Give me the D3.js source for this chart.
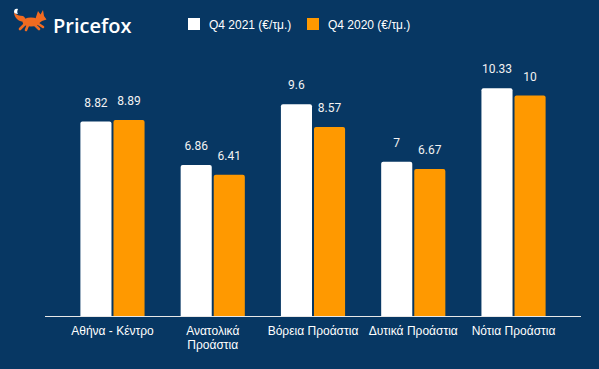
<!DOCTYPE html>
<html>
<head>
<meta charset="utf-8">
<script src="https://cdn.jsdelivr.net/npm/d3@7"></script>
<style>
  html, body { margin: 0; padding: 0; background: #073763; }
  svg { display: block; }
</style>
</head>
<body>
<div id="chart"></div>
<script>
var categories = ['Αθήνα - Κέντρο', 'Ανατολικά Προάστια', 'Βόρεια Προάστια', 'Δυτικά Προάστια', 'Νότια Προάστια'];
var seriesNames = ['Q4 2021 (€/τμ.)', 'Q4 2020 (€/τμ.)'];
var q4_2021 = [8.82, 6.86, 9.6, 7, 10.33];
var q4_2020 = [8.89, 6.41, 8.57, 6.67, 10];
var colors = ['#ffffff', '#ff9900'];

var width = 599, height = 369;
var baseY = 316.5;

var svg = d3.select('#chart').append('svg')
  .attr('width', width)
  .attr('height', height);

svg.append('rect').attr('width', width).attr('height', height).attr('fill', '#073763');

// logo (rough fox)
var logo = svg.append('g').attr('transform', 'translate(13,8)');
logo.append('path').attr('d', 'M12,14 C6,14 1,10 1,4 C3,7 7,8 10,8 C12,9 13,11 12,14 Z').attr('fill', '#f26b21');
logo.append('path').attr('d', 'M1,4 C1,1 3,0 5,1 C4,3 4,5 5,6 C3,6 1,5 1,4 Z').attr('fill', '#ffffff');
logo.append('ellipse').attr('cx', 18).attr('cy', 14).attr('rx', 8.5).attr('ry', 4.5).attr('fill', '#f26b21');
logo.append('path').attr('d', 'M22,12 L25,3 L27.5,6.5 L30,2 L31,8 L33.5,11.5 L29,13 L25,16 Z').attr('fill', '#f26b21');
logo.append('path').attr('d', 'M12,16 L7,21 M15,17 L13,22 M22,17 L26,21 M24,15 L30,19')
  .attr('stroke', '#f26b21').attr('stroke-width', 2.6).attr('stroke-linecap', 'round');
svg.append('text').attr('x', 53).attr('y', 33)
  .attr('font-family', 'Open Sans').attr('font-weight', 600).attr('font-size', 20)
  .attr('fill', '#ffffff').text('Pricefox');

// legend
var legendX = [188, 307];
seriesNames.forEach(function (name, i) {
  svg.append('rect').attr('x', legendX[i]).attr('y', 18).attr('width', 12).attr('height', 12)
    .attr('fill', colors[i]);
  svg.append('text').attr('x', legendX[i] + 21).attr('y', 28.5)
    .attr('font-family', 'Liberation Sans, Arial').attr('font-size', 12)
    .attr('fill', '#ffffff').text(name);
});

var x0 = d3.scaleBand().domain(categories).range([45, 581])
  .paddingInner(0.36).paddingOuter(0.353);
var x1 = d3.scaleBand().domain([0, 1]).range([0, x0.bandwidth()]).paddingInner(0.06);
var y = d3.scaleLinear().domain([0, 12]).range([baseY, baseY - 22.1 * 12]);

var rows = categories.map(function (c, i) { return [q4_2021[i], q4_2020[i]]; });

var groups = svg.selectAll('g.grp').data(rows).enter().append('g')
  .attr('class', 'grp')
  .attr('transform', function (d, i) { return 'translate(' + x0(categories[i]) + ',0)'; });

function barPath(x, w, top, bottom, r) {
  return 'M' + x + ',' + bottom + 'V' + (top + r) + 'Q' + x + ',' + top + ' ' + (x + r) + ',' + top +
    'H' + (x + w - r) + 'Q' + (x + w) + ',' + top + ' ' + (x + w) + ',' + (top + r) + 'V' + bottom + 'Z';
}

groups.selectAll('path').data(function (d) { return d; }).enter().append('path')
  .attr('d', function (d, j) { return barPath(x1(j), x1.bandwidth(), y(d), y(0), 2); })
  .attr('fill', function (d, j) { return colors[j]; });

groups.selectAll('text').data(function (d) { return d; }).enter().append('text')
  .attr('x', function (d, j) { return x1(j) + x1.bandwidth() / 2; })
  .attr('y', function (d) { return y(d) - 15; })
  .attr('text-anchor', 'middle')
  .attr('font-family', 'Roboto').attr('font-size', 12)
  .attr('fill', '#f2f2f2')
  .text(function (d) { return d; });

// x axis
var xAxis = svg.append('g').attr('transform', 'translate(0,' + baseY + ')')
  .call(d3.axisBottom(x0).tickSize(0).tickPadding(0));
xAxis.select('.domain').attr('stroke', '#e8e8e8').attr('d', 'M45,0H581');
xAxis.selectAll('.tick text').remove();
xAxis.selectAll('.tick').each(function (c) {
  var t = d3.select(this).append('text')
    .attr('y', 18).attr('text-anchor', 'middle')
    .attr('font-family', 'Liberation Sans, Arial').attr('font-size', 12)
    .attr('fill', '#ffffff').text(c);
  if (t.node().getComputedTextLength() > x0.step() * 0.95) {
    var words = c.split(' ');
    t.text(null);
    words.forEach(function (w, k) {
      t.append('tspan').attr('x', 0).attr('dy', k === 0 ? 0 : 14).text(w);
    });
  }
});
</script>
</body>
</html>
